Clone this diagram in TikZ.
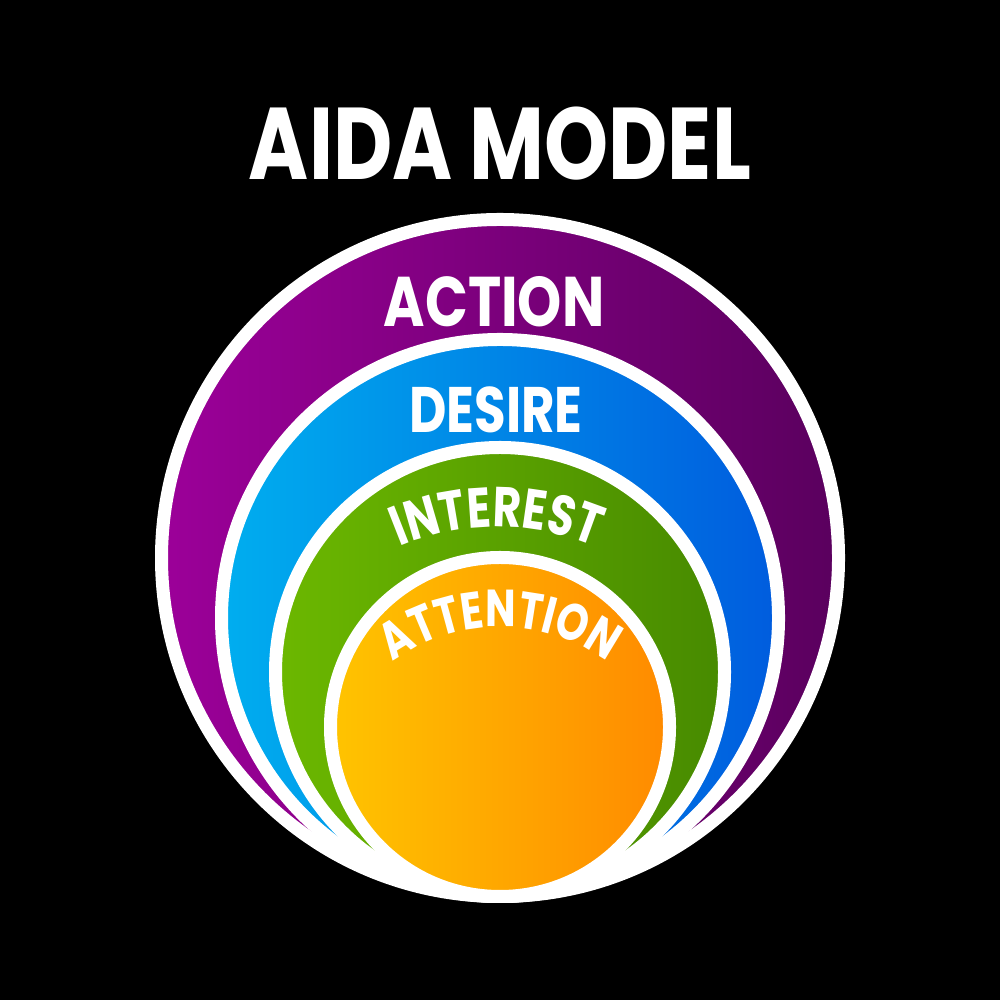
\documentclass[tikz,border=0pt]{standalone}
\usepackage{fontspec}
\usepackage{tikz}
\usetikzlibrary{decorations.text}
\newfontfamily\handfont[FakeStretch=0.8]{Poppins}
\newfontfamily\arcfont[FakeStretch=0.78, LetterSpace=4]{Poppins}
\definecolor{actionleft}{HTML}{9C0099}
\definecolor{actionright}{HTML}{5A005E}
\definecolor{desireleft}{HTML}{00AEEF}
\definecolor{desireright}{HTML}{005CDE}
\definecolor{interestleft}{HTML}{6CB800}
\definecolor{interestright}{HTML}{478A00}
\definecolor{attentionleft}{HTML}{FFC400}
\definecolor{attentionright}{HTML}{FF8A00}

\begin{document}
\begin{tikzpicture}[
  ring/.style = {draw=white, line width=1.3mm},
  word/.style = {text=white, anchor=base, inner sep=0pt, font=\handfont\bfseries\fontsize{20}{22}\selectfont}
]
  \fill [black] (0,0) rectangle (10,10);
  \node (title) [word, font=\handfont\bfseries\fontsize{29}{32}\selectfont] at (5,8.2) {AIDA MODEL};

  \draw [ring, left color=actionleft, right color=actionright] (5,4.42) circle (3.385);
  \draw [ring, left color=desireleft, right color=desireright] (5,3.82) circle (2.785);
  \draw [ring, left color=interestleft, right color=interestright] (5,3.28) circle (2.245);
  \draw [ring, left color=attentionleft, right color=attentionright] (5,2.73) circle (1.695);

  \node (action) [word] at (4.94,6.73) {ACTION};
  \node (desire) [word, font=\handfont\bfseries\fontsize{18.3}{20}\selectfont] at (4.96,5.67) {DESIRE};
  \path [decorate, decoration={text along path, text align=center, text color=white,
    text={|\arcfont\bfseries\fontsize{16}{18}\selectfont|INTEREST}}]
    ([shift={(160:2.51)}]4.97,2.22) arc [start angle=160, end angle=20, radius=2.51];
  \path [decorate, decoration={text along path, text align=center, text color=white,
    text={|\arcfont\bfseries\fontsize{14.8}{17}\selectfont|ATTENTION}}]
    ([shift={(160:1.82)}]5,1.91) arc [start angle=160, end angle=20, radius=1.82];
\end{tikzpicture}
\end{document}
